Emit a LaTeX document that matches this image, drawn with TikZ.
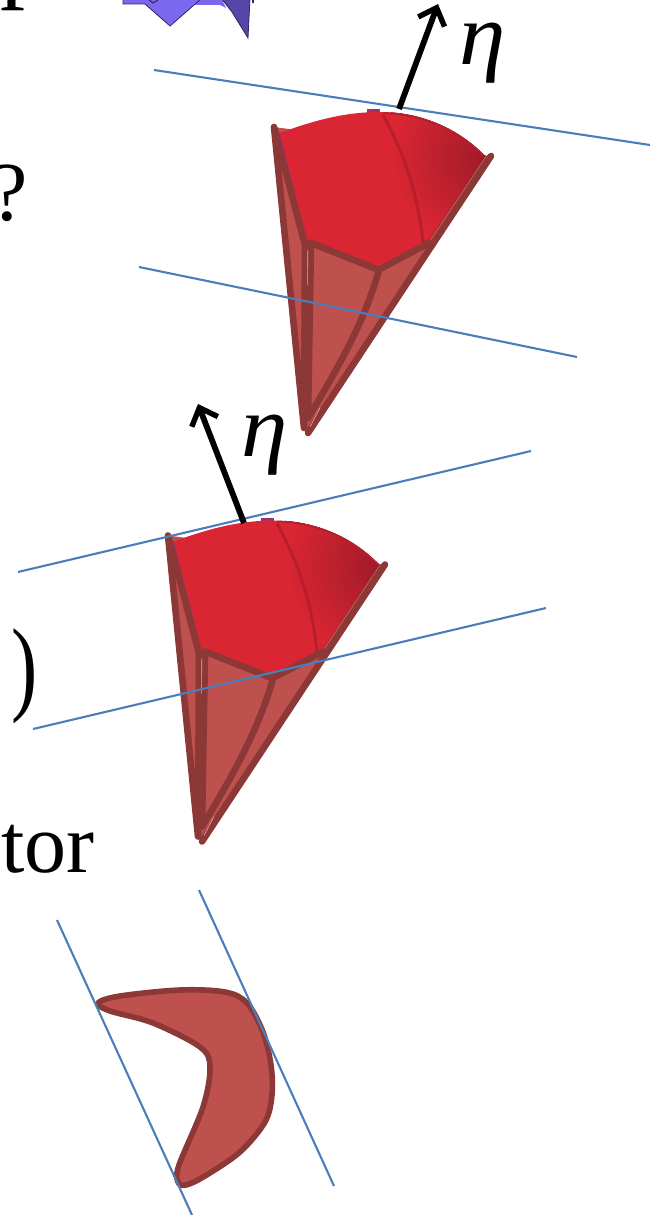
\documentclass[tikz,border=0pt]{standalone}
\usepackage{fontspec}
\setmainfont{Liberation Serif}
\usepackage{xcolor}
\usepackage{tikz}
\usetikzlibrary{arrows.meta,positioning}
\definecolor{pptblue}{HTML}{4A7EBB}
\definecolor{ptfill}{HTML}{BE504D}
\definecolor{ptedge}{HTML}{8C3836}
\definecolor{capred}{HTML}{DA2632}
\definecolor{capdark}{HTML}{B81E2C}
\definecolor{capshade}{HTML}{A01A2A}
\definecolor{capspot}{HTML}{A03070}
\definecolor{polylight}{HTML}{7B68EE}
\definecolor{polydark}{HTML}{5546A8}
\definecolor{polyedge}{HTML}{2C2860}
\tikzset{
  cutline/.style={pptblue,line width=2.1pt},
  etaarrow/.style={-{Straight Barb[length=15pt,width=28pt,line width=5.4pt]},line width=5.8pt,black},
  conefill/.style={fill=ptfill,draw=none},
  coneedge/.style={ptedge,line width=6.6pt,line cap=round,line join=round},
  polyface/.style={fill=polylight,draw=polyedge,line width=0.8pt},
  polyshade/.style={fill=polydark,draw=polyedge,line width=0.8pt},
  bigtext/.style={inner sep=0pt,anchor=base west,font=\fontsize{84}{84}\selectfont},
  etatext/.style={inner sep=0pt,anchor=base west,xscale=1.06,font=\fontsize{88}{88}\selectfont\itshape},
  conepic/.pic={
    \fill[conefill] (274,127) -- (491,156) -- (308,433) -- (304,428) -- cycle;
    \draw[capspot,line width=3pt] (280,133) -- (308,243);
    \fill[capspot] (367,109) rectangle (380,114);
    \fill[capred] (280,133) .. controls (320,118) and (350,112) .. (380,112)
      .. controls (420,112) and (458,128) .. (485,156) -- (427,243)
      -- (380,269) -- (308,243) -- cycle;
    \begin{scope}
      \clip (280,133) .. controls (320,118) and (350,112) .. (380,112)
        .. controls (420,112) and (458,128) .. (485,156) -- (427,243)
        -- (380,269) -- (308,243) -- cycle;
      \fill[inner color=capshade,outer color=capred,shading=radial] (391,63) rectangle (581,253);
    \end{scope}
    \draw[capdark,line width=1.5pt] (383,113) .. controls (420,114) and (458,129) .. (483,155);
    \draw[capdark,line width=3pt] (383,115) .. controls (405,155) and (418,195) .. (423,243);
    \draw[coneedge] (274,127) -- (304,428) (274,127) -- (305,245) -- (304,428);
    \draw[coneedge] (311,243) -- (308,418);
    \draw[coneedge] (491,156) -- (308,433);
    \draw[coneedge] (311,243) -- (379,270) .. controls (365,320) and (340,365) .. (308,418);
    \draw[coneedge] (382,268) -- (429,243);
    \draw[white!50!ptfill,line width=0.6pt] (307.8,250) -- (307.6,285);
    \draw[white!50!ptfill,line width=0.6pt] (310,427) -- (320,408);
  }
}
\begin{document}
\begin{tikzpicture}[x=1pt,y=-1pt]
  \useasboundingbox (0,0) rectangle (650,1215);
  \clip (0,0) rectangle (650,1215);

  \node[bigtext,font=\fontsize{100}{100}\selectfont] (topglyph) at (0,-10) {p};
  \node[bigtext] (question) at (-10,220) {?};
  \node[bigtext,xscale=0.75,font=\fontsize{105}{105}\selectfont] (closeparen) at (11,701) {)};
  \node[bigtext] (tailword) at (1,872) {tor};

  % polyhedron left over at the top
  \fill[polylight] (192,0) -- (192,5) -- (220,5) -- (226,8) -- (222,0) -- cycle;
  \draw[polyface] (123,-2) -- (123,4) -- (145,4) -- (170,26) -- (202,-2);
  \draw[polyedge,line width=1pt] (147,-2) -- (153,3) -- (158,0);
  \draw[polyshade] (221,-2) -- (232,12) -- (248,38) -- (250,-2);
  \fill[polyedge] (252,-1) rectangle (254,3);

  \pic {conepic};
  \pic at (-106,408.5) {conepic};

  \coordinate (cutAa) at (154,70);
  \coordinate (cutAb) at (650,145);
  \coordinate (cutBa) at (139,267);
  \coordinate (cutBb) at (577,357);
  \coordinate (cutCa) at (18,572);
  \coordinate (cutCb) at (531,451);
  \coordinate (cutDa) at (33,729);
  \coordinate (cutDb) at (546,608);
  \draw[cutline] (cutAa) -- (cutAb);
  \draw[cutline] (cutBa) -- (cutBb);
  \draw[cutline] (cutCa) -- (cutCb);
  \draw[cutline] (cutDa) -- (cutDb);

  \coordinate (etaAfoot) at (399,109);
  \coordinate (etaAtip) at (438,4);
  \coordinate (etaBfoot) at (244,523);
  \coordinate (etaBtip) at (198,404);
  \draw[etaarrow] (etaAfoot) -- (etaAtip);
  \draw[etaarrow] (etaBfoot) -- (etaBtip);
  \node[etatext] (etaA) at (459,64) {η};
  \node[etatext] (etaB) at (241,456) {η};

  \draw[ptedge,fill=ptfill,line width=5.6pt,line join=round] plot[smooth cycle,tension=0.55] coordinates {
    (98,1003) (120,996) (180,990) (225,992) (247,1003) (263,1032) (271,1065) (272,1095)
    (265,1122) (240,1152) (205,1176) (186,1185) (178,1182) (179,1165) (203,1107) (210,1067)
    (200,1047) (153,1023) (110,1011)};

  \coordinate (cutEa) at (57,920);
  \coordinate (cutEb) at (192,1215);
  \coordinate (cutFa) at (199,890);
  \coordinate (cutFb) at (334,1186);
  \draw[cutline] (cutEa) -- (cutEb);
  \draw[cutline] (cutFa) -- (cutFb);
\end{tikzpicture}
\end{document}
